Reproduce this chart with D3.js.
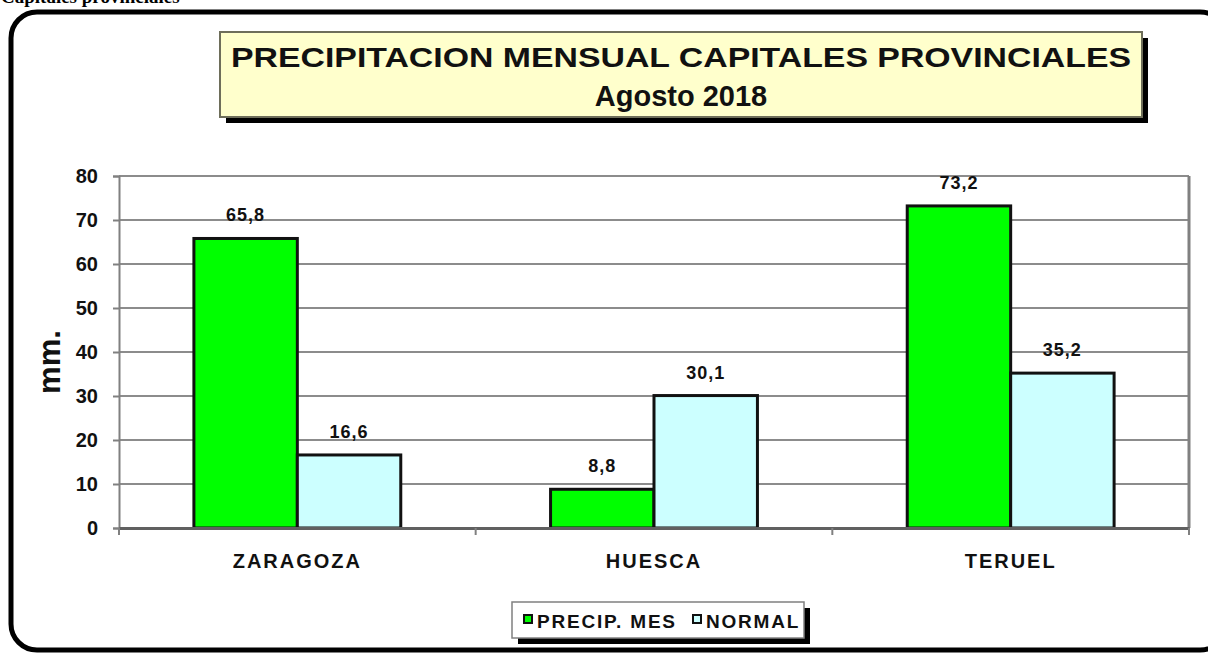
<!DOCTYPE html>
<html><head><meta charset="utf-8">
<script src="https://cdn.jsdelivr.net/npm/d3@7"></script>
<style>
html,body{margin:0;padding:0;background:#fff;overflow:hidden;}
svg{display:block;}
text{font-family:"Liberation Sans",Arial,sans-serif;}
</style></head>
<body><svg id="c" width="1208" height="653"></svg>
<script>
const categories = ["ZARAGOZA", "HUESCA", "TERUEL"];
const seriesNames = ["PRECIP. MES", "NORMAL"];
const precipMes = [65.8, 8.8, 73.2];
const normal = [16.6, 30.1, 35.2];
const yTicks = [0, 10, 20, 30, 40, 50, 60, 70, 80];
const colors = ["#00ff00", "#ccffff"];
const titleLines = ["PRECIPITACION MENSUAL CAPITALES PROVINCIALES", "Agosto 2018"];
const pageHeading = "Capitales provinciales";
const yLabel = "mm.";

const svg = d3.select("#c");

// page heading (cut off at top, as in the source page)
svg.append("text").attr("x", 1).attr("y", 3)
  .style("font-family", "'Liberation Serif','Times New Roman',serif")
  .attr("font-weight", "bold").attr("font-size", 19).text(pageHeading);

// outer rounded frame
svg.append("rect").attr("x", 11).attr("y", 12).attr("width", 1215).attr("height", 638)
  .attr("rx", 26).attr("fill", "none").attr("stroke", "#000").attr("stroke-width", 5);

const L = 119, R = 1189, T = 176, B = 528;
const y = d3.scaleLinear().domain([0, 80]).range([B, T]);
const x0 = d3.scaleBand().domain(categories).range([L, R]);
const bw = x0.bandwidth();
const x1 = d3.scaleBand().domain(seriesNames).range([bw * 0.21, bw * 0.79]);

// gridlines
svg.append("g").selectAll("line").data(yTicks.filter(d => d > 0)).join("line")
  .attr("x1", L).attr("x2", R).attr("y1", d => y(d)).attr("y2", d => y(d))
  .attr("stroke", "#8c8c8c").attr("stroke-width", 2);

// right border
svg.append("line").attr("x1", R).attr("x2", R).attr("y1", T).attr("y2", B)
  .attr("stroke", "#808080").attr("stroke-width", 3);

// y axis
const yAxis = d3.axisLeft(y).tickValues(yTicks).tickSize(6).tickPadding(15);
const gy = svg.append("g").attr("transform", `translate(${L},0)`).call(yAxis);
gy.select(".domain").attr("stroke", "#808080").attr("stroke-width", 2);
gy.selectAll(".tick line").attr("stroke", "#808080").attr("stroke-width", 2);
gy.selectAll(".tick text").attr("font-size", 20).attr("font-weight", "bold")
  .attr("fill", "#111").style("font-family", "'Liberation Sans',Arial,sans-serif");

// y label
svg.append("text").attr("transform", "translate(60,362) rotate(-90)")
  .attr("text-anchor", "middle").attr("font-size", 31).attr("font-weight", "bold")
  .attr("fill", "#111").text(yLabel);

// bars
const data = categories.map((c, i) => ({ cat: c, vals: [precipMes[i], normal[i]] }));
const groups = svg.append("g").selectAll("g").data(data).join("g")
  .attr("transform", d => `translate(${x0(d.cat)},0)`);
groups.selectAll("rect").data(d => d.vals.map((v, j) => ({ v, s: seriesNames[j], j }))).join("rect")
  .attr("x", d => x1(d.s)).attr("width", x1.bandwidth())
  .attr("y", d => y(d.v)).attr("height", d => y(0) - y(d.v))
  .attr("fill", d => colors[d.j]).attr("stroke", "#111").attr("stroke-width", 3);
groups.selectAll("text").data(d => d.vals.map((v, j) => ({ v, s: seriesNames[j] }))).join("text")
  .attr("x", d => x1(d.s) + x1.bandwidth() / 2).attr("y", d => y(d.v) - 17)
  .attr("text-anchor", "middle").attr("font-size", 18).attr("font-weight", "bold")
  .attr("fill", "#111").attr("letter-spacing", 1)
  .text(d => d3.format(".1f")(d.v).replace(".", ","));

// x axis
const xAxis = d3.axisBottom(x0).tickSize(0).tickPadding(26);
const gx = svg.append("g").attr("transform", `translate(0,${B})`).call(xAxis);
gx.select(".domain").attr("stroke", "#606060").attr("stroke-width", 3);
gx.selectAll(".tick text").attr("font-size", 20).attr("font-weight", "bold")
  .attr("fill", "#111").attr("letter-spacing", 2)
  .style("font-family", "'Liberation Sans',Arial,sans-serif");
// category boundary ticks
const bounds = categories.map(c => x0(c)).concat([R]);
svg.append("g").selectAll("line").data(bounds).join("line")
  .attr("x1", d => d).attr("x2", d => d).attr("y1", B).attr("y2", B + 7)
  .attr("stroke", "#808080").attr("stroke-width", 2);

// title box
const tb = { x: 220, y: 32, w: 922, h: 85 };
svg.append("rect").attr("x", tb.x + 6).attr("y", tb.y + 6).attr("width", tb.w).attr("height", tb.h).attr("fill", "#000");
svg.append("rect").attr("x", tb.x).attr("y", tb.y).attr("width", tb.w).attr("height", tb.h)
  .attr("fill", "#ffffcc").attr("stroke", "#6e6e5a").attr("stroke-width", 2);
svg.append("text").attr("x", tb.x + tb.w / 2).attr("y", 67).attr("text-anchor", "middle")
  .attr("font-size", 28).attr("font-weight", "bold").attr("fill", "#111")
  .attr("textLength", 900).attr("lengthAdjust", "spacingAndGlyphs").text(titleLines[0]);
svg.append("text").attr("x", tb.x + tb.w / 2).attr("y", 106).attr("text-anchor", "middle")
  .attr("font-size", 29).attr("font-weight", "bold").attr("fill", "#111").text(titleLines[1]);

// legend
const lg = { x: 512, y: 602, w: 292, h: 36 };
svg.append("rect").attr("x", lg.x + 6).attr("y", lg.y + 6).attr("width", lg.w).attr("height", lg.h).attr("fill", "#000");
svg.append("rect").attr("x", lg.x).attr("y", lg.y).attr("width", lg.w).attr("height", lg.h)
  .attr("fill", "#fff").attr("stroke", "#808080").attr("stroke-width", 1.5);
const itemX = [524, 693];
seriesNames.forEach((s, i) => {
  svg.append("rect").attr("x", itemX[i]).attr("y", 615).attr("width", 8).attr("height", 8)
    .attr("fill", colors[i]).attr("stroke", "#111").attr("stroke-width", 2);
  svg.append("text").attr("x", itemX[i] + 13).attr("y", 628).attr("font-size", 19)
    .attr("font-weight", "bold").attr("fill", "#111").attr("letter-spacing", 1.8).text(s);
});
</script></body></html>
